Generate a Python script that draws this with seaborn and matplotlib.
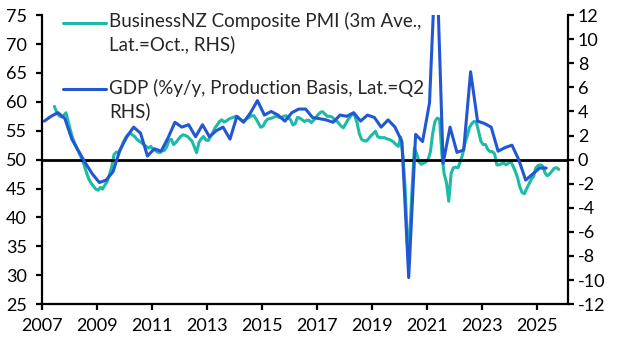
#!/usr/bin/env python3
# -*- coding: utf-8 -*-
"""NZ composite PMI vs GDP growth, twin axis line chart."""

import numpy as np
import pandas as pd
import seaborn as sns
import matplotlib.pyplot as plt
import matplotlib.dates as mdates

# %% Data

# BusinessNZ composite PMI, 3m average, monthly from Jun 2007 to Oct 2025
pmi_start = '2007-06-01'
pmi_vals = [
    59.2, 58.2, 57.6, 57.4, 57.6, 58.1, 56.6,                          # 2007
    55.0, 53.6, 52.7, 51.8, 51.0, 50.0, 49.0, 47.7, 46.6, 45.9, 45.4, 44.9,  # 2008
    44.7, 45.2, 44.9, 45.6, 46.2, 47.4, 48.8, 50.9, 51.3, 51.2, 51.9, 53.0,  # 2009
    53.8, 54.3, 54.6, 54.3, 54.0, 53.5, 53.2, 52.9, 52.6, 52.3, 52.0, 52.3,  # 2010
    51.8, 51.6, 51.3, 51.2, 51.5, 51.6, 52.2, 53.4, 53.5, 52.6, 53.0, 53.5,  # 2011
    54.0, 54.3, 54.2, 54.0, 53.6, 53.2, 52.2, 51.2, 53.0, 53.6, 54.0, 53.4,  # 2012
    53.3, 54.0, 54.6, 55.5, 56.0, 56.6, 56.9, 56.5, 56.7, 57.0, 57.2, 57.3,  # 2013
    57.5, 57.3, 57.0, 56.7, 56.8, 57.1, 57.3, 57.6, 57.6, 57.0, 56.3, 55.6,  # 2014
    55.8, 56.6, 57.0, 57.1, 57.2, 57.4, 57.5, 57.3, 57.2, 57.5, 57.6, 57.2,  # 2015
    56.9, 56.0, 56.2, 57.3, 57.2, 56.9, 56.6, 56.8, 56.8, 56.4, 56.8, 57.3,  # 2016
    57.8, 58.2, 58.3, 57.9, 57.5, 57.5, 57.4, 57.0, 56.7, 56.3, 55.8, 55.5,  # 2017
    56.2, 56.9, 57.4, 57.9, 57.6, 56.4, 54.5, 53.5, 53.3, 53.2, 53.6, 54.1,  # 2018
    54.5, 54.9, 54.0, 53.8, 53.8, 53.8, 53.6, 53.5, 53.3, 53.0, 52.6, 52.3,  # 2019
    53.9, 50.5, 45.0, 35.0, 37.0, 45.0, 52.0, 51.0, 49.6, 49.2, 49.4, 49.6,  # 2020
    50.0, 51.5, 54.5, 56.6, 57.2, 57.0, 51.0, 47.5, 46.0, 42.8, 47.6, 48.6,  # 2021
    48.7, 48.6, 49.6, 50.8, 52.7, 54.0, 55.5, 56.2, 56.6, 56.5, 54.9, 53.2,  # 2022
    52.6, 52.6, 51.8, 51.4, 51.4, 51.0, 49.1, 49.1, 49.3, 49.4, 49.1, 49.4,  # 2023
    49.7, 48.9, 48.0, 46.9, 45.3, 44.3, 44.1, 45.0, 45.8, 46.6, 47.1, 48.6,  # 2024
    49.0, 49.1, 48.9, 47.7, 47.2, 47.5, 48.0, 48.5, 48.6, 48.3,              # 2025
]

# GDP, %y/y production basis, quarterly from 2007 Q1 to 2025 Q2
gdp_start = '2007-02-01'
gdp_vals = [
    3.2, 3.6, 3.9, 3.4,     # 2007
    1.7, 0.7, -0.3, -1.2,   # 2008
    -1.9, -1.7, -1.0, 0.8,  # 2009
    1.9, 2.7, 2.2, 0.3,     # 2010
    0.9, 0.7, 1.8, 3.1,     # 2011
    2.7, 2.9, 1.9, 2.9,     # 2012
    1.9, 2.4, 2.7, 1.7,     # 2013
    3.6, 3.1, 3.9, 4.9,     # 2014
    3.7, 4.0, 3.7, 3.2,     # 2015
    3.9, 4.2, 4.2, 3.5,     # 2016
    3.4, 3.3, 3.1, 3.7,     # 2017
    3.6, 3.9, 3.2, 3.7,     # 2018
    3.5, 2.7, 3.3, 2.7,     # 2019
    1.5, -9.8, 2.1, 1.5,    # 2020
    4.7, 17.8, -0.3, 2.7,   # 2021
    0.6, 0.8, 7.3, 3.2,     # 2022
    3.0, 2.7, 0.7, 1.0,     # 2023
    1.2, 0.0, -1.7, -1.2,   # 2024
    -0.7, -0.7,             # 2025
]

lbl_pmi = 'BusinessNZ Composite PMI (3m Ave.,\nLat.=Oct., RHS)'
lbl_gdp = 'GDP (%y/y, Production Basis, Lat.=Q2\nRHS)'

x_ticks = list(range(2007, 2027, 2))

# colours
col_pmi = '#1dbba6'
col_gdp = '#2257d3'

# %% Frames

df_pmi = pd.DataFrame({
    'date': pd.date_range(pmi_start, periods=len(pmi_vals), freq='MS')
    + pd.Timedelta(days=14),
    'pmi': pmi_vals})
df_gdp = pd.DataFrame({
    'date': pd.date_range(gdp_start, periods=len(gdp_vals), freq='3MS'),
    'gdp': gdp_vals})

# %% Plot

sns.set_theme(style='ticks')
plt.rcParams['font.family'] = ['Lato', 'DejaVu Sans']
plt.rcParams['font.size'] = 13
plt.rcParams['axes.unicode_minus'] = False

fig = plt.figure(figsize=(6.27, 3.52), dpi=100)
ax = fig.add_axes([0.067, 0.136, 0.839, 0.821])
ax2 = ax.twinx()

sns.lineplot(data=df_pmi, x='date', y='pmi', ax=ax, color=col_pmi,
             linewidth=2.2, legend=False)
ax.axhline(50, color='black', linewidth=2, zorder=5)
sns.lineplot(data=df_gdp, x='date', y='gdp', ax=ax2, color=col_gdp,
             linewidth=2.2, legend=False)

ax.set_ylim(25, 75)
ax.set_yticks(np.arange(25, 76, 5))
ax2.set_ylim(-12, 12)
ax2.set_yticks(np.arange(-12, 13, 2))
ax.set_xlim(pd.Timestamp('2007-01-01'), pd.Timestamp('2026-02-15'))
ax.set_xticks([pd.Timestamp(f'{y}-01-01') for y in x_ticks])
ax.xaxis.set_major_formatter(mdates.DateFormatter('%Y'))

for a in (ax, ax2):
    a.set_xlabel('')
    a.set_ylabel('')
    a.spines['top'].set_visible(False)
    for s in a.spines.values():
        s.set_linewidth(1.6)
        s.set_color('black')
ax.spines['right'].set_visible(False)
ax2.spines['left'].set_visible(False)
ax2.spines['bottom'].set_visible(False)

ax.tick_params(axis='x', direction='out', length=4, width=1.6, pad=6,
               colors='black', labelsize=13)
ax.tick_params(axis='y', direction='out', length=4, width=1.6, pad=7,
               colors='black', labelsize=13)
ax2.tick_params(axis='y', direction='out', length=4, width=1.6, pad=3,
                colors='black', labelsize=13)

# legend, handles moved up to the first text line
h_pmi = ax.get_lines()[0]
h_gdp = ax2.get_lines()[0]
leg = ax2.legend([h_pmi, h_gdp], [lbl_pmi, lbl_gdp], loc='upper left',
                 bbox_to_anchor=(0.04, 1.01), frameon=False, borderpad=0,
                 borderaxespad=0, handlelength=2.3, handletextpad=0.15,
                 labelspacing=1.33, fontsize=13.5)
for t in leg.get_texts():
    t.set_linespacing(1.36)
for ln in leg.legend_handles:
    ln.set_ydata(np.array(ln.get_ydata()) + 7.6)

fig.savefig('out.png', dpi=100)
